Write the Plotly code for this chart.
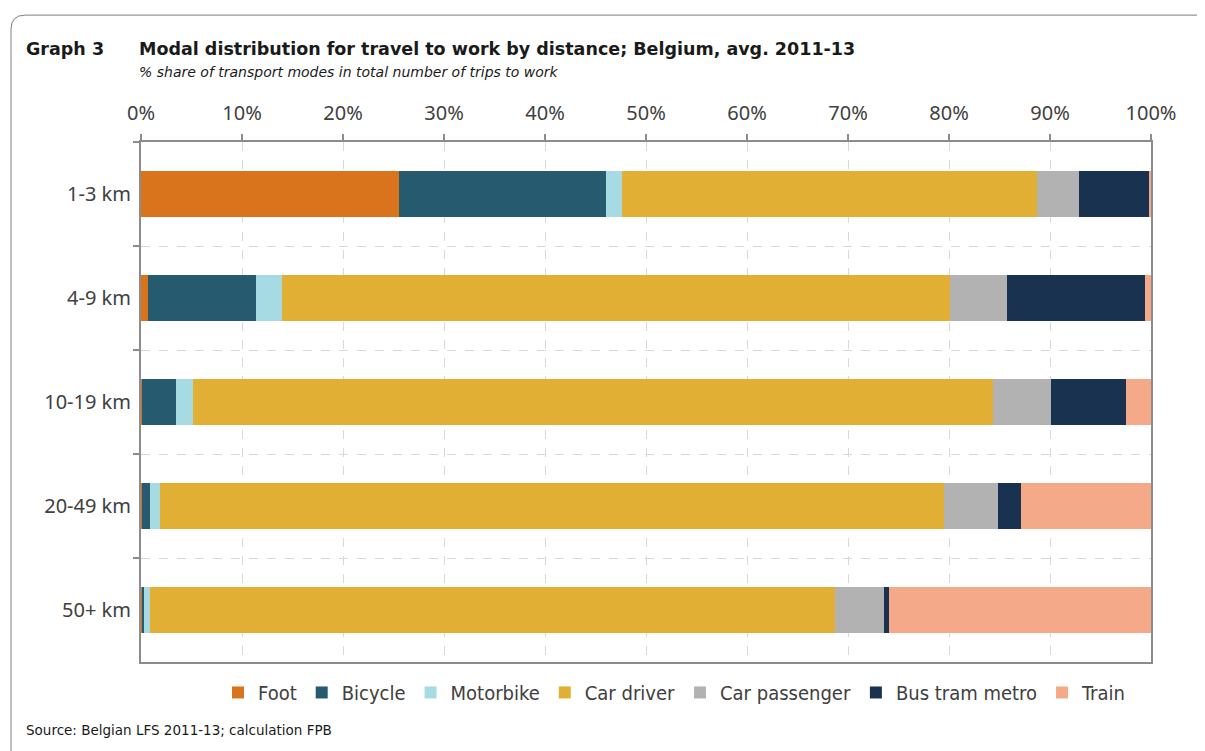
import plotly.graph_objects as go

categories = ["1-3 km", "4-9 km", "10-19 km", "20-49 km", "50+ km"]
modes = ["Foot", "Bicycle", "Motorbike", "Car driver", "Car passenger", "Bus tram metro", "Train"]

foot = [25.5, 0.7, 0.1, 0.1, 0.1]
bicycle = [20.5, 10.7, 3.4, 0.8, 0.2]
motorbike = [1.6, 2.6, 1.6, 1.0, 0.6]
car_driver = [41.1, 66.1, 79.3, 77.6, 67.8]
car_passenger = [4.2, 5.6, 5.7, 5.4, 4.9]
bus_tram_metro = [6.9, 13.7, 7.4, 2.2, 0.5]
train = [0.2, 0.6, 2.5, 12.9, 25.9]

series = [foot, bicycle, motorbike, car_driver, car_passenger, bus_tram_metro, train]
colors = ["#D9731C", "#265B6F", "#A6DBE3", "#E1AF33", "#B2B2B2", "#18324F", "#F4AA88"]

x_ticks = list(range(0, 101, 10))
x_ticktext = [f"{v}%" for v in x_ticks]

W, H = 1205, 751
OFF = 8  # page body margin offset
L, R, T, B = 141 - OFF, 1151 - OFF, 142 - OFF, 662.5 - OFF


def px(x):
    return (x - OFF - L) / (R - L)


def py(y):
    return (B - (y - OFF)) / (B - T)


fig = go.Figure()
for name, vals, col in zip(modes, series, colors):
    fig.add_trace(go.Bar(
        y=categories, x=vals, name=name, orientation="h",
        marker=dict(color=col, line=dict(width=0)),
        hovertemplate="%{y}: %{x}%<extra>" + name + "</extra>",
    ))

axis_gray = "#8C8C8C"
fig.update_layout(
    width=W, height=H,
    barmode="stack",
    bargap=0.55,
    plot_bgcolor="white",
    paper_bgcolor="white",
    margin=dict(l=L, r=W - R, t=T, b=H - B, pad=0),
    font=dict(family="Noto Sans, Open Sans, sans-serif", color="#404040"),
    showlegend=True,
    legend=dict(
        orientation="h", x=px(218), xanchor="left", y=py(693), yanchor="middle",
        font=dict(size=20, family="DejaVu Sans Condensed, Noto Sans, sans-serif", color="#404040"),
        traceorder="normal", itemwidth=30, bgcolor="rgba(0,0,0,0)",
    ),
    xaxis=dict(
        side="top", range=[0, 100], tickvals=x_ticks, ticktext=x_ticktext,
        tickfont=dict(size=20, color="#404040"),
        ticks="outside", ticklen=6, tickcolor=axis_gray, tickwidth=2,
        showline=True, linecolor=axis_gray, linewidth=2, mirror=True,
        showgrid=True, gridcolor="#D9D9D9", griddash="dash", gridwidth=1,
        zeroline=False, fixedrange=True, ticklabelstandoff=6,
    ),
    yaxis=dict(
        type="category", autorange="reversed", tickson="boundaries",
        tickfont=dict(size=20, color="#404040"),
        ticks="outside", ticklen=6, tickcolor=axis_gray, tickwidth=2,
        showline=True, linecolor=axis_gray, linewidth=2, mirror=True,
        showgrid=True, gridcolor="#D9D9D9", griddash="dash", gridwidth=1,
        ticklabelstandoff=4, fixedrange=True,
    ),
)

# frame with rounded corner
r = 14
x0, y0 = 11, 15
path = (f"M {px(x0)} {py(H + 30)} L {px(x0)} {py(y0 + r)} "
        f"Q {px(x0)} {py(y0)} {px(x0 + r)} {py(y0)} L {px(W + 30)} {py(y0)}")
fig.add_shape(type="path", path=path, xref="paper", yref="paper",
              line=dict(color="#7F7F7F", width=1), layer="below")

title_font = "DejaVu Sans, Verdana, sans-serif"
fig.add_annotation(text="<b>Graph 3</b>", x=px(24), y=py(49), xref="paper", yref="paper",
                   xanchor="left", yanchor="middle", showarrow=False,
                   font=dict(size=17.5, family=title_font, color="#1A1A1A"))
fig.add_annotation(text="<b>Modal distribution for travel to work by distance; Belgium, avg. 2011-13</b>",
                   x=px(137), y=py(49), xref="paper", yref="paper",
                   xanchor="left", yanchor="middle", showarrow=False,
                   font=dict(size=17.5, family=title_font, color="#1A1A1A"))
fig.add_annotation(text="<i>% share of transport modes in total number of trips to work</i>",
                   x=px(137), y=py(72), xref="paper", yref="paper",
                   xanchor="left", yanchor="middle", showarrow=False,
                   font=dict(size=14, family=title_font, color="#1A1A1A"))
fig.add_annotation(text="Source: Belgian LFS 2011-13; calculation FPB",
                   x=px(24), y=py(731), xref="paper", yref="paper",
                   xanchor="left", yanchor="middle", showarrow=False,
                   font=dict(size=13.5, family="DejaVu Sans, sans-serif", color="#1A1A1A"))

fig.write_html("out.html")
